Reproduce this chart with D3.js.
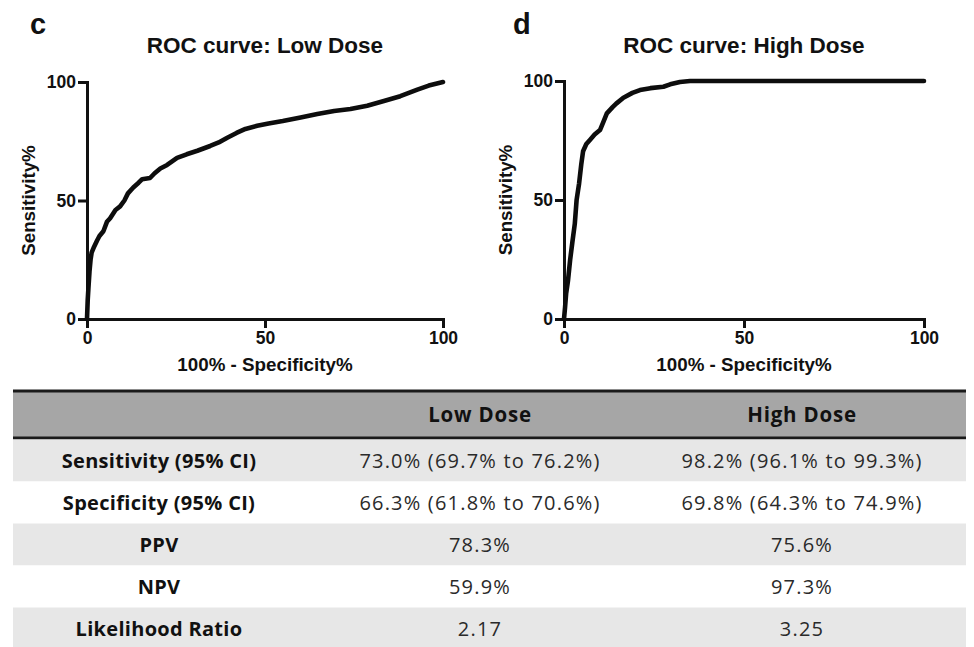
<!DOCTYPE html>
<html>
<head>
<meta charset="utf-8">
<script src="https://cdn.jsdelivr.net/npm/d3@7"></script>
<style>
  body { margin: 0; background: #fff; }
  svg { display: block; }
</style>
</head>
<body>
<svg id="fig" width="974" height="647"></svg>
<script>
// ROC curve points: [100% - specificity, sensitivity]
var lowDose = [
  [0, 0], [0.2, 8], [0.4, 13], [0.7, 20], [1.0, 25], [1.3, 28], [2.0, 30.5],
  [2.8, 33], [3.5, 35], [4.6, 37], [5.6, 41], [6.5, 42.5], [8, 46], [9.3, 47.5],
  [10.5, 50], [11.5, 53], [13, 55.5], [14.5, 57.5], [15.5, 59], [17.7, 59.5],
  [19, 61.5], [20.6, 63.5], [22.5, 65], [25.3, 68], [28, 69.5], [31, 71],
  [34.6, 73], [37, 74.5], [39.4, 76.5], [42, 78.5], [44.5, 80.2], [47.8, 81.5],
  [51, 82.5], [55, 83.5], [60, 85], [64.7, 86.5], [69.4, 87.8], [74, 88.6],
  [78.7, 90], [83.4, 92], [88, 94], [92.8, 96.8], [96, 98.5], [100, 100]
];
var highDose = [
  [0, 0], [0.3, 5], [0.6, 10.8], [1.1, 16], [1.7, 24.8], [2.3, 32], [3.0, 40],
  [3.5, 50], [4.2, 57], [4.8, 65], [5.3, 70.5], [6.2, 73.5], [7.2, 75.2],
  [8.5, 77.5], [10, 79.4], [11, 83], [11.9, 86.4], [13.5, 89], [14.5, 90.5],
  [16.5, 93], [19, 95], [21.1, 96.2], [24, 97], [27.6, 97.6], [29.5, 98.6],
  [32.2, 99.6], [35, 100], [60, 100], [80, 100], [100, 100]
];

var axisTicks = [0, 50, 100];
var panelLetters = ["c", "d"];
var panelTitles = ["ROC curve: Low Dose", "ROC curve: High Dose"];
var xTitle = "100% - Specificity%";
var yTitle = "Sensitivity%";

// table content
var tableHead = ["", "Low Dose", "High Dose"];
var rowLabels = ["Sensitivity (95% CI)", "Specificity (95% CI)", "PPV", "NPV", "Likelihood Ratio"];
var lowDoseStats = ["73.0% (69.7% to 76.2%)", "66.3% (61.8% to 70.6%)", "78.3%", "59.9%", "2.17"];
var highDoseStats = ["98.2% (96.1% to 99.3%)", "69.8% (64.3% to 74.9%)", "75.6%", "97.3%", "3.25"];

var svg = d3.select("#fig");
var chartFont = "'Liberation Sans', Arial, sans-serif";
var tableFont = "'Open Sans', 'Noto Sans', sans-serif";

var panels = [
  { data: lowDose,  x0: 87,  x1: 443, y0: 319, y1: 82, letterX: 30,  titleX: 265 },
  { data: highDose, x0: 564, x1: 924, y0: 319, y1: 81, letterX: 513, titleX: 744 }
];

panels.forEach(function (p, i) {
  var x = d3.scaleLinear().domain([0, 100]).range([p.x0, p.x1]);
  var y = d3.scaleLinear().domain([0, 100]).range([p.y0, p.y1]);
  var g = svg.append("g");

  g.append("text")
    .attr("x", p.letterX).attr("y", 34)
    .attr("font-family", chartFont).attr("font-weight", "bold")
    .attr("font-size", 29).attr("fill", "#111")
    .text(panelLetters[i]);

  g.append("text")
    .attr("x", p.titleX).attr("y", 53)
    .attr("text-anchor", "middle")
    .attr("font-family", chartFont).attr("font-weight", "bold")
    .attr("font-size", 22.5).attr("fill", "#111")
    .text(panelTitles[i]);

  var yAxis = g.append("g")
    .attr("transform", "translate(" + p.x0 + ",0)")
    .call(d3.axisLeft(y).tickValues(axisTicks).tickSize(9).tickSizeOuter(0).tickPadding(2));
  var xAxis = g.append("g")
    .attr("transform", "translate(0," + p.y0 + ")")
    .call(d3.axisBottom(x).tickValues(axisTicks).tickSize(9).tickSizeOuter(0).tickPadding(4));

  [xAxis, yAxis].forEach(function (a) {
    a.select(".domain").attr("stroke", "#111").attr("stroke-width", 3).attr("stroke-linecap", "square");
    a.selectAll(".tick line").attr("stroke", "#111").attr("stroke-width", 3);
    a.selectAll(".tick text")
      .attr("font-family", chartFont).attr("font-weight", "bold")
      .attr("font-size", 17.5).attr("fill", "#111");
  });

  g.append("text")
    .attr("x", (p.x0 + p.x1) / 2).attr("y", 371)
    .attr("text-anchor", "middle")
    .attr("font-family", chartFont).attr("font-weight", "bold")
    .attr("font-size", 18.8).attr("fill", "#111")
    .text(xTitle);

  g.append("text")
    .attr("transform", "translate(" + (p.x0 - 52) + "," + ((p.y0 + p.y1) / 2) + ") rotate(-90)")
    .attr("text-anchor", "middle")
    .attr("font-family", chartFont).attr("font-weight", "bold")
    .attr("font-size", 18.8).attr("fill", "#111")
    .text(yTitle);

  var line = d3.line().x(function (d) { return x(d[0]); }).y(function (d) { return y(d[1]); });
  g.append("path")
    .datum(p.data)
    .attr("d", line)
    .attr("fill", "none")
    .attr("stroke", "#0d0d0d")
    .attr("stroke-width", 4.6)
    .attr("stroke-linejoin", "round")
    .attr("stroke-linecap", "round");
});

// ---- table ----
var tableLeft = 13, tableRight = 966;
var headTop = 391, headBottom = 438, rowH = 42;
var colCenters = [159, 480, 802];

svg.append("rect")
  .attr("x", tableLeft).attr("y", headTop)
  .attr("width", tableRight - tableLeft).attr("height", headBottom - headTop)
  .attr("fill", "#a6a6a6");
svg.append("line")
  .attr("x1", tableLeft).attr("x2", tableRight).attr("y1", headTop).attr("y2", headTop)
  .attr("stroke", "#1a1a1a").attr("stroke-width", 3);
svg.append("line")
  .attr("x1", tableLeft).attr("x2", tableRight).attr("y1", headBottom).attr("y2", headBottom)
  .attr("stroke", "#1a1a1a").attr("stroke-width", 3);

svg.selectAll("text.head")
  .data(tableHead)
  .enter().append("text")
  .attr("class", "head")
  .attr("x", function (d, i) { return colCenters[i]; })
  .attr("y", (headTop + headBottom) / 2 + 7)
  .attr("text-anchor", "middle")
  .attr("font-family", tableFont).attr("font-weight", "bold")
  .attr("font-size", 20.5).attr("letter-spacing", 0.8).attr("fill", "#111")
  .text(function (d) { return d; });

var rows = rowLabels.map(function (lab, i) {
  return [lab, lowDoseStats[i], highDoseStats[i]];
});
var rowTop = headBottom + 1.5;

var rowG = svg.selectAll("g.row")
  .data(rows)
  .enter().append("g")
  .attr("class", "row")
  .attr("transform", function (d, i) { return "translate(0," + (rowTop + i * rowH) + ")"; });

rowG.append("rect")
  .attr("x", tableLeft).attr("width", tableRight - tableLeft)
  .attr("height", rowH)
  .attr("fill", function (d, i) { return i % 2 === 0 ? "#e7e7e7" : "#ffffff"; });

rowG.selectAll("text")
  .data(function (d) { return d; })
  .enter().append("text")
  .attr("x", function (d, i) { return colCenters[i]; })
  .attr("y", rowH / 2 + 7)
  .attr("text-anchor", "middle")
  .attr("font-family", tableFont)
  .attr("font-weight", function (d, i) { return i === 0 ? "bold" : "normal"; })
  .attr("font-size", 20)
  .attr("letter-spacing", function (d, i) { return i === 0 ? 0.3 : 1.2; })
  .attr("fill", function (d, i) { return i === 0 ? "#111" : "#2a2a2a"; })
  .text(function (d) { return d; });
</script>
</body>
</html>
